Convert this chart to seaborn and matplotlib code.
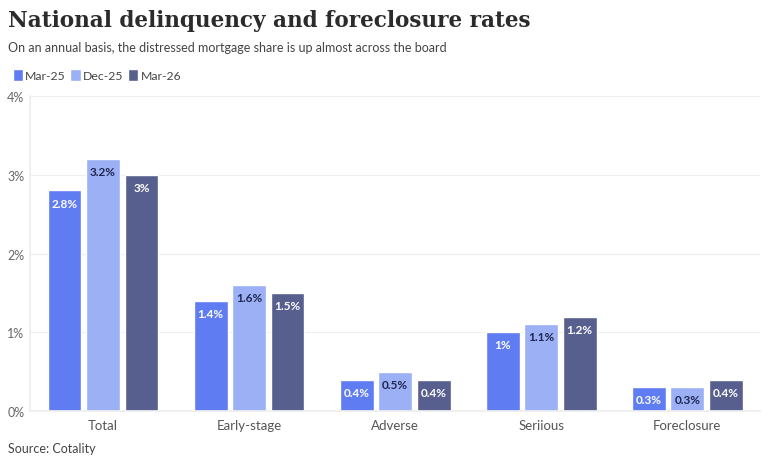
import matplotlib
matplotlib.use("Agg")
import matplotlib.pyplot as plt
import seaborn as sns
import pandas as pd

categories = ["Total", "Early-stage", "Adverse", "Seriious", "Foreclosure"]
periods = ["Mar-25", "Dec-25", "Mar-26"]
mar25 = [2.8, 1.4, 0.4, 1.0, 0.3]
dec25 = [3.2, 1.6, 0.5, 1.1, 0.3]
mar26 = [3.0, 1.5, 0.4, 1.2, 0.4]

colors = ["#5f7cf2", "#9cb0f5", "#575f8f"]
label_colors = ["white", "#1f2650", "white"]

df = pd.DataFrame({
    "category": categories * 3,
    "period": [p for p in periods for _ in categories],
    "value": mar25 + dec25 + mar26,
})

sns.set_theme(style="white")
plt.rcParams["font.family"] = ["Lato", "DejaVu Sans"]

fig = plt.figure(figsize=(7.68, 4.64), dpi=100)
ax = fig.add_axes([0.039, 0.112, 0.951, 0.679])

sns.barplot(data=df, x="category", y="value", hue="period", palette=colors,
            width=0.79, gap=0.12, ax=ax, legend=True, saturation=1)

for cont, lc in zip(ax.containers, label_colors):
    ax.bar_label(cont, labels=["{:g}%".format(v) for v in cont.datavalues],
                 padding=-13, color=lc, fontsize=8.5, fontweight="bold")

ax.set_ylim(0, 4)
ax.set_xlim(-0.5, 4.5)
ax.set_yticks([0, 1, 2, 3, 4])
ax.set_yticklabels(["0%", "1%", "2%", "3%", "4%"], color="#666666", fontsize=9)
ax.tick_params(axis="x", colors="#555555", labelsize=9.5, length=0, pad=6)
ax.tick_params(axis="y", length=0, pad=4)
ax.yaxis.grid(True, color="#eeeeee", linewidth=0.8)
ax.set_axisbelow(True)
ax.set_xlabel("")
ax.set_ylabel("")
for s in ["top", "right"]:
    ax.spines[s].set_visible(False)
ax.spines["left"].set_color("#eeeeee")
ax.spines["bottom"].set_color("#eeeeee")

ax.legend(loc="upper left", bbox_to_anchor=(0.002, 0.872), bbox_transform=fig.transFigure,
          ncol=3, frameon=False, handlelength=0.85, handleheight=1.1,
          handletextpad=0.2, columnspacing=0.35, fontsize=8.8, labelcolor="#444444")

fig.text(0.011, 0.955, "National delinquency and foreclosure rates", fontsize=15.5,
         fontweight="bold", family=["DejaVu Serif"], color="#2b2b2b", va="center")
fig.text(0.011, 0.896, "On an annual basis, the distressed mortgage share is up almost across the board",
         fontsize=9, color="#444444", va="center")
fig.text(0.011, 0.032, "Source: Cotality", fontsize=9, color="#444444", va="center")

fig.savefig("out.png", dpi=100)
